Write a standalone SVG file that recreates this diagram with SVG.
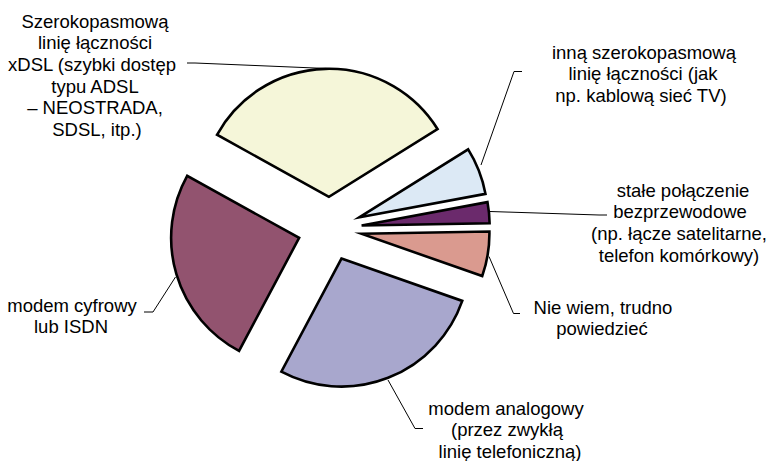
<svg xmlns="http://www.w3.org/2000/svg" width="774" height="461" viewBox="0 0 774 461">
<style>
.s{stroke:#000;stroke-width:2.6;stroke-linejoin:miter;stroke-miterlimit:6}
.l{fill:none;stroke:#000;stroke-width:1}
text{font-family:"Liberation Sans",Arial,sans-serif;font-size:18.5px;fill:#000;text-anchor:middle}
</style>
<rect width="774" height="461" fill="#fff"/>
<g id="slice-xdsl"><path class="s" fill="#F5F6D9" d="M328.96,196.81 L217.0,134.76 A128,128 0 0 1 437.51,128.98 Z"/></g>
<g id="slice-inna"><path class="s" fill="#DCE9F5" d="M359.62,217.2 L468.17,149.37 A128,128 0 0 1 485.48,193.87 Z"/></g>
<g id="slice-stale"><path class="s" fill="#6B2A6C" d="M361.62,225.45 L487.48,202.12 A128,128 0 0 1 489.6,223.22 Z"/></g>
<g id="slice-niewiem"><path class="s" fill="#DA9A8F" d="M361.42,233.75 L489.4,231.52 A128,128 0 0 1 482.23,276.05 Z"/></g>
<g id="slice-analog"><path class="s" fill="#A8A7CD" d="M341.45,258.6 L462.26,300.9 A128,128 0 0 1 281.35,371.61 Z"/></g>
<g id="slice-cyfrowy"><path class="s" fill="#92536F" d="M299.12,237.89 L239.02,350.9 A128,128 0 0 1 187.17,175.84 Z"/></g>
<g id="connectors">
<polyline class="l" points="187,63 195,63 327,68.5"/>
<polyline class="l" points="522,71.5 514,71.5 481,165"/>
<polyline class="l" points="490,211.5 599,215 607,215"/>
<polyline class="l" points="489,256.5 513.5,313.5 520,313.5"/>
<polyline class="l" points="175.5,277 153,312 144,312"/>
<polyline class="l" points="388,380 415,428.5 423,428.5"/>
</g>
<g id="label-xdsl">
<text x="95" y="27.5">Szerokopasmową</text>
<text x="95" y="49.2">linię łączności</text>
<text x="92" y="70.9">xDSL (szybki dostęp</text>
<text x="95" y="92.6">typu ADSL</text>
<text x="95" y="114.3">– NEOSTRADA,</text>
<text x="97" y="136">SDSL, itp.)</text>
</g>
<g id="label-inna">
<text x="644" y="58.5">inną szerokopasmową</text>
<text x="643" y="80.2">linię łączności (jak</text>
<text x="641" y="101.9">np. kablową sieć TV)</text>
</g>
<g id="label-stale">
<text x="683" y="196.5">stałe połączenie</text>
<text x="680" y="218.2">bezprzewodowe</text>
<text x="679" y="239.9">(np. łącze satelitarne,</text>
<text x="679" y="261.6">telefon komórkowy)</text>
</g>
<g id="label-niewiem">
<text x="603" y="313.5">Nie wiem, trudno</text>
<text x="602" y="335.2">powiedzieć</text>
</g>
<g id="label-cyfrowy">
<text x="72" y="311.5">modem cyfrowy</text>
<text x="71" y="333.2">lub ISDN</text>
</g>
<g id="label-analog">
<text x="506" y="414.5">modem analogowy</text>
<text x="507" y="436.2">(przez zwykłą</text>
<text x="510" y="457.9">linię telefoniczną)</text>
</g>
</svg>
